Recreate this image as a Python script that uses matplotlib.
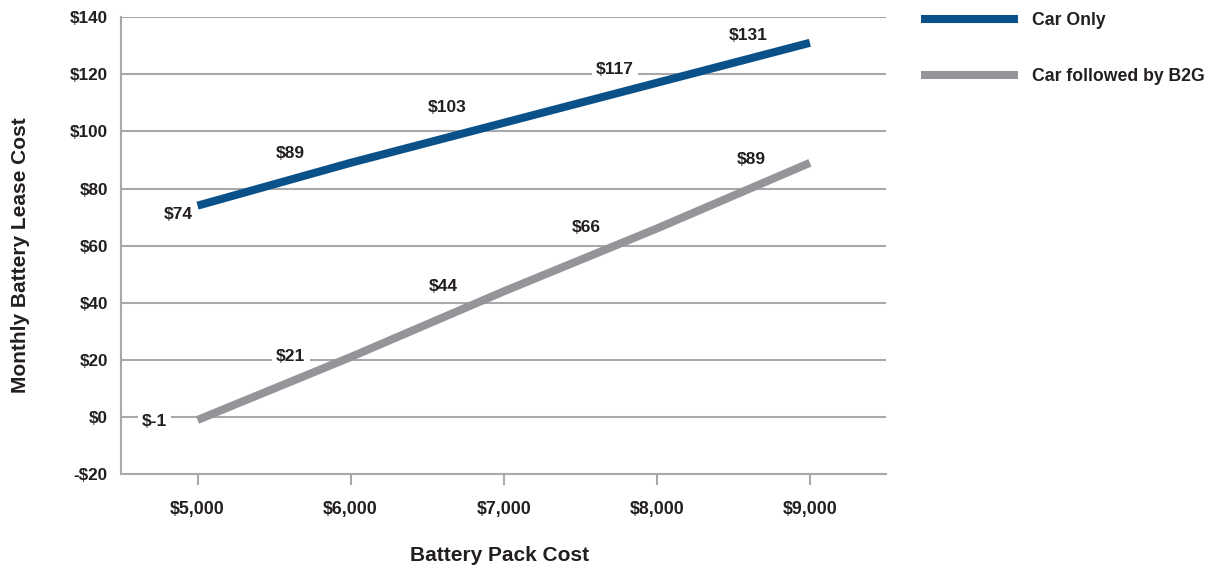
import matplotlib.pyplot as plt

plt.rcParams['font.family'] = ['Liberation Sans', 'DejaVu Sans']
plt.rcParams['font.weight'] = 'bold'

# data
pack_cost = [5000, 6000, 7000, 8000, 9000]
car_only = [74, 89, 103, 117, 131]
car_b2g = [-1, 21, 44, 66, 89]
car_only_labels = ['$74', '$89', '$103', '$117', '$131']
car_b2g_labels = ['$-1', '$21', '$44', '$66', '$89']
x_ticks = [5000, 6000, 7000, 8000, 9000]
x_tick_labels = ['$5,000', '$6,000', '$7,000', '$8,000', '$9,000']
y_ticks = [-20, 0, 20, 40, 60, 80, 100, 120, 140]
y_tick_labels = ['-$20', '$0', '$20', '$40', '$60', '$80', '$100', '$120', '$140']

blue = '#0b5189'
gray = '#939598'
grid_col = '#a7a9ac'
text_col = '#231f20'

fig = plt.figure(figsize=(12.17, 5.7), dpi=100)
ax = fig.add_axes([0.0994, 0.168, 0.629, 0.802])

ax.plot(pack_cost, car_only, color=blue, lw=5.8, solid_capstyle='butt', label='Car Only', zorder=3)
ax.plot(pack_cost, car_b2g, color=gray, lw=5.8, solid_capstyle='butt', label='Car followed by B2G', zorder=3)

# data labels, sit up and to the left of the points
blue_offsets = [(-19, -9), (-60, 9), (-57, 15), (-42, 13), (-62, 7)]
gray_offsets = [(-43, -2), (-60, 1), (-60, 5), (-71, 1), (-59, 3)]
for xv, yv, lab, off in zip(pack_cost, car_only, car_only_labels, blue_offsets):
    ax.annotate(lab, (xv, yv), xytext=off, textcoords='offset pixels',
                ha='center', va='center', fontsize=12.5, color=text_col, zorder=4,
                bbox=dict(boxstyle='square,pad=0.25', fc='white', ec='none'))
for xv, yv, lab, off in zip(pack_cost, car_b2g, car_b2g_labels, gray_offsets):
    ax.annotate(lab, (xv, yv), xytext=off, textcoords='offset pixels',
                ha='center', va='center', fontsize=12.5, color=text_col, zorder=4,
                bbox=dict(boxstyle='square,pad=0.25', fc='white', ec='none'))

ax.set_xlim(4500, 9500)
ax.set_ylim(-20, 140)
ax.set_xticks(x_ticks)
ax.set_xticklabels(x_tick_labels)
ax.set_yticks(y_ticks)
ax.set_yticklabels(y_tick_labels)
ax.yaxis.grid(True, color=grid_col, lw=1.5, zorder=1)
ax.set_axisbelow(True)

for s in ['top', 'right']:
    ax.spines[s].set_visible(False)
for s in ['left', 'bottom']:
    ax.spines[s].set_color(grid_col)
    ax.spines[s].set_linewidth(1.5)

ax.tick_params(axis='x', length=8, width=1.5, color=grid_col, pad=11.5, labelsize=12.8, labelcolor=text_col)
ax.tick_params(axis='y', length=0, pad=9.5, labelsize=12.3, labelcolor=text_col)

ax.set_xlabel('Battery Pack Cost', fontsize=15, fontweight='bold', color=text_col)
ax.set_ylabel('Monthly Battery Lease Cost', fontsize=15, fontweight='bold', color=text_col)
ax.xaxis.set_label_coords(0.494, -0.158)
ax.yaxis.set_label_coords(-0.119, 0.479)

fig.legend(loc='upper left', bbox_to_anchor=(0.744, 1.007), frameon=False, fontsize=12.7,
           handlelength=5.5, handletextpad=0.75, labelspacing=2.2, labelcolor=text_col)

fig.savefig('out.png', dpi=100)
